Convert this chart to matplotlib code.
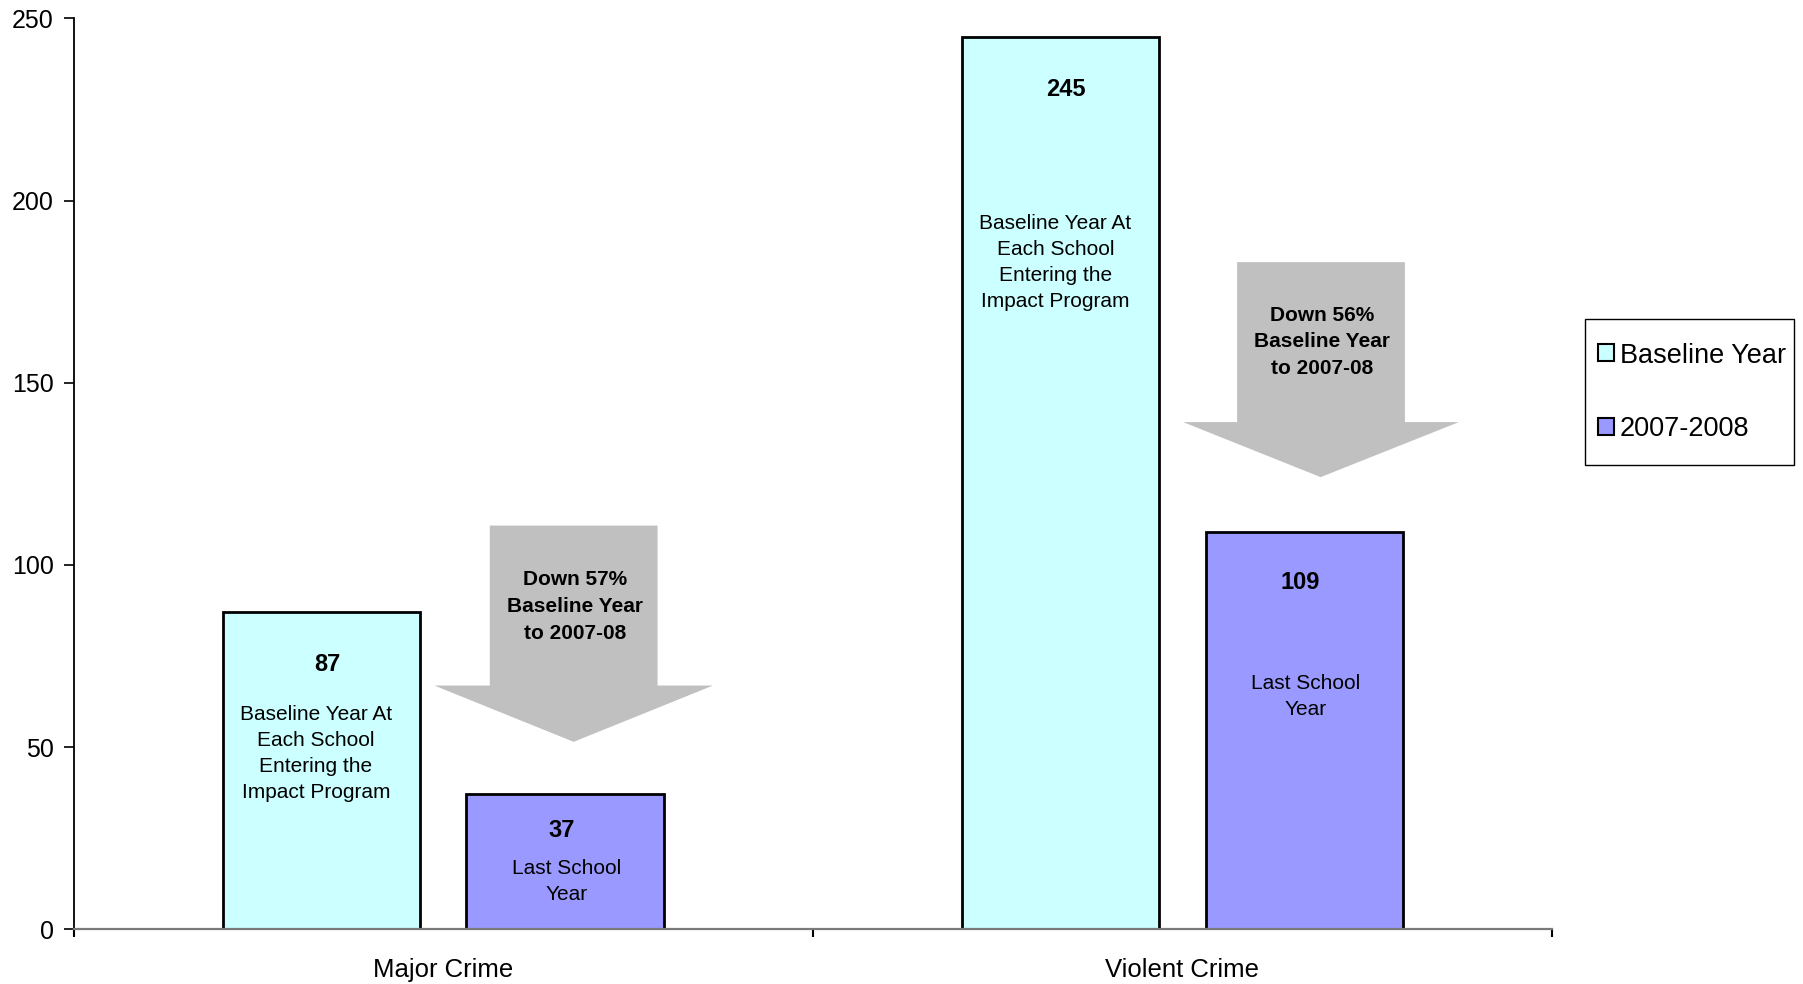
import matplotlib
matplotlib.use("Agg")
import matplotlib.pyplot as plt
from matplotlib.patches import Polygon, Patch, Rectangle

plt.rcParams['font.family'] = ['Liberation Sans', 'DejaVu Sans']

categories = ["Major Crime", "Violent Crime"]
series_names = ["Baseline Year", "2007-2008"]
baseline = [87, 245]
recent = [37, 109]
colors = ["#CCFFFF", "#9999FF"]
baseline_desc = "Baseline Year At\nEach School\nEntering the\nImpact Program"
recent_desc = "Last School\nYear"
arrow_texts = ["Down 57%\nBaseline Year\nto 2007-08", "Down 56%\nBaseline Year\nto 2007-08"]
yticks = [0, 50, 100, 150, 200, 250]

fig = plt.figure(figsize=(18.03, 9.84), dpi=100)
ax = fig.add_axes([0.0408, 0.0556, 0.8200, 0.9257])

width = 0.267
off = 0.165
xs = list(range(len(categories)))
ax.bar([x - off for x in xs], baseline, width, color=colors[0], edgecolor="black", linewidth=2, zorder=2)
ax.bar([x + off for x in xs], recent, width, color=colors[1], edgecolor="black", linewidth=2, zorder=2)

# annotation positions (layout)
num_y_base = [72.6, 230.4]
desc_y_base = [48.3, 183.0]
num_y_rec = [27.1, 95.3]
desc_y_rec = [13.1, 63.9]
for i, x in enumerate(xs):
    ax.text(x - off + 0.008, num_y_base[i], str(baseline[i]), ha="center", va="center",
            fontsize=17, fontweight="bold", zorder=4)
    ax.text(x - off - 0.007, desc_y_base[i], baseline_desc, ha="center", va="center",
            fontsize=15, linespacing=1.47, zorder=4)
    ax.text(x + off - 0.005, num_y_rec[i], str(recent[i]), ha="center", va="center",
            fontsize=17, fontweight="bold", zorder=4)
    ax.text(x + off + 0.002, desc_y_rec[i], recent_desc, ha="center", va="center",
            fontsize=15, linespacing=1.47, zorder=4)

# arrows (layout shapes relative to category centre)
arrow_geo = [
    dict(sx0=0.063, sx1=0.290, hx0=-0.012, hx1=0.365, tip=0.1765, top=110.8, neck=66.9, bot=51.45, ty=88.6),
    dict(sx0=0.074, sx1=0.301, hx0=0.001, hx1=0.374, tip=0.187, top=183.1, neck=139.2, bot=124.1, ty=161.2),
]
for i, x in enumerate(xs):
    g = arrow_geo[i]
    pts = [(x + g["sx0"], g["top"]), (x + g["sx1"], g["top"]), (x + g["sx1"], g["neck"]),
           (x + g["hx1"], g["neck"]), (x + g["tip"], g["bot"]), (x + g["hx0"], g["neck"]),
           (x + g["sx0"], g["neck"])]
    ax.add_patch(Polygon(pts, closed=True, facecolor="#C0C0C0", edgecolor="none", zorder=3))
    ax.text(x + (g["sx0"] + g["sx1"]) / 2 + 0.002, g["ty"], arrow_texts[i], ha="center", va="center",
            fontsize=15, fontweight="bold", linespacing=1.52, zorder=4)

ax.set_xlim(-0.5, 1.5)
ax.set_ylim(0, 250)
ax.set_yticks(yticks)
ax.set_yticklabels([str(v) for v in yticks], fontsize=18)
ax.tick_params(axis="y", direction="out", length=7, width=1.2, pad=7.3, color="black")

ax.set_xticks([-0.5, 0.5, 1.5])
ax.set_xticklabels([])
ax.set_xticks(xs, minor=True)
ax.set_xticklabels(categories, minor=True, fontsize=18.5)
ax.tick_params(axis="x", which="major", direction="out", length=6, width=1.5, color="black")
ax.tick_params(axis="x", which="minor", length=0, pad=20.5)

for s in ["top", "right"]:
    ax.spines[s].set_visible(False)
ax.spines["left"].set_color("black")
ax.spines["left"].set_linewidth(1.3)
ax.spines["bottom"].set_color("#7a7a7a")
ax.spines["bottom"].set_linewidth(1.6)

# legend frame (figure coords)
fig.patches.append(Rectangle((1584.6 / 1803, 1 - 464.6 / 984), (1794 - 1584.6) / 1803, (464.6 - 318.5) / 984,
                             transform=fig.transFigure, facecolor="white", edgecolor="black",
                             linewidth=1.0, zorder=0))
handles = [Patch(facecolor=colors[0], edgecolor="black", linewidth=1.5),
           Patch(facecolor=colors[1], edgecolor="black", linewidth=1.5)]
leg = fig.legend(handles, series_names, loc="center left", bbox_to_anchor=(1598 / 1803, 1 - 392.5 / 984),
                 fontsize=19.5, frameon=False,
                 handlelength=0.59, handleheight=0.59, handletextpad=0.22,
                 labelspacing=1.77, borderpad=0, borderaxespad=0)

fig.savefig("out.png", dpi=100)
